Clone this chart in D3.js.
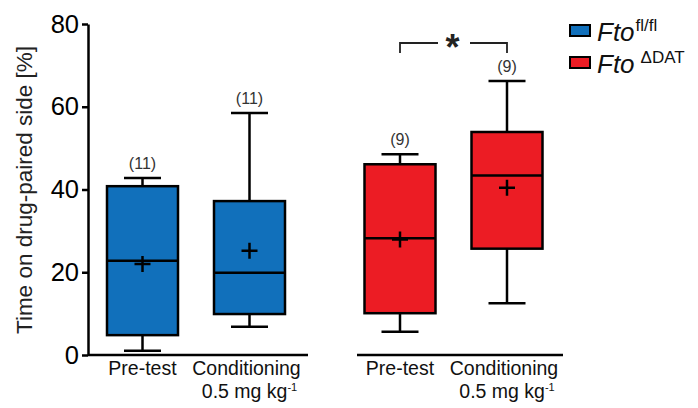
<!DOCTYPE html>
<html>
<head>
<meta charset="utf-8">
<script src="https://cdn.jsdelivr.net/npm/d3@7"></script>
<style>
  body { margin: 0; background: #fff; }
  svg { font-family: "Liberation Sans", Arial, Helvetica, sans-serif; }
</style>
</head>
<body>
<svg id="chart" width="698" height="408"></svg>
<script>
// --- data ---
const boxIds   = ["ff_pre", "ff_cond", "dat_pre", "dat_cond"];
const genotype = ["fl", "fl", "dat", "dat"];
const whiskLo  = [1.0, 6.8, 5.6, 12.5];
const q1       = [4.8, 9.9, 10.1, 25.7];
const median   = [22.8, 19.9, 28.2, 43.4];
const q3       = [40.8, 37.2, 46.1, 53.9];
const whiskHi  = [42.8, 58.5, 48.5, 66.2];
const means    = [22.0, 25.2, 27.9, 40.4];
const nLabels  = ["(11)", "(11)", "(9)", "(9)"];
const yTicks   = [0, 20, 40, 60, 80];

const colors = { fl: "#1170bb", dat: "#ec1c24" };

const svg = d3.select("#chart");

// scales
const y = d3.scaleLinear().domain([0, 80]).range([355, 24]);
// box centres: two groups of two, gap between groups
const centers = { ff_pre: 142.5, ff_cond: 249.5, dat_pre: 400, dat_cond: 507 };
const boxW = 71, capW = 37;

// y axis
const yAxis = svg.append("g")
    .attr("transform", "translate(88,0)")
    .call(d3.axisLeft(y).tickValues(yTicks).tickSize(6).tickSizeOuter(0).tickPadding(3));
yAxis.select(".domain").attr("stroke", "#000").attr("stroke-width", 2.5);
yAxis.selectAll(".tick line").attr("stroke", "#000").attr("stroke-width", 2.5);
yAxis.selectAll(".tick text").attr("font-size", 25.5).attr("fill", "#000")
    .attr("font-family", "Liberation Sans, Arial, sans-serif");

svg.append("text")
    .attr("transform", "translate(32,190) rotate(-90)")
    .attr("text-anchor", "middle")
    .attr("font-size", 22.5)
    .attr("fill", "#222")
    .text("Time on drug-paired side [%]");

// x axis segments for each group
const groupLines = [[88, 308], [357, 563]];
svg.selectAll("line.xaxis").data(groupLines).enter().append("line")
    .attr("class", "xaxis")
    .attr("x1", d => d[0]).attr("x2", d => d[1])
    .attr("y1", y(0)).attr("y2", y(0))
    .attr("stroke", "#000").attr("stroke-width", 2.5);

// boxes
const rows = boxIds.map((id, i) => ({
    id, g: genotype[i], lo: whiskLo[i], q1: q1[i], med: median[i],
    q3: q3[i], hi: whiskHi[i], mean: means[i], n: nLabels[i], cx: centers[id]
}));

const bx = svg.selectAll("g.box").data(rows).enter().append("g").attr("class", "box");
const sw = 2.5;

// whiskers
bx.append("line").attr("x1", d => d.cx).attr("x2", d => d.cx)
    .attr("y1", d => y(d.hi)).attr("y2", d => y(d.q3))
    .attr("stroke", "#000").attr("stroke-width", sw);
bx.append("line").attr("x1", d => d.cx).attr("x2", d => d.cx)
    .attr("y1", d => y(d.q1)).attr("y2", d => y(d.lo))
    .attr("stroke", "#000").attr("stroke-width", sw);
bx.append("line").attr("x1", d => d.cx - capW / 2).attr("x2", d => d.cx + capW / 2)
    .attr("y1", d => y(d.hi)).attr("y2", d => y(d.hi))
    .attr("stroke", "#000").attr("stroke-width", sw);
bx.append("line").attr("x1", d => d.cx - capW / 2).attr("x2", d => d.cx + capW / 2)
    .attr("y1", d => y(d.lo)).attr("y2", d => y(d.lo))
    .attr("stroke", "#000").attr("stroke-width", sw);
// box
bx.append("rect")
    .attr("x", d => d.cx - boxW / 2).attr("width", boxW)
    .attr("y", d => y(d.q3)).attr("height", d => y(d.q1) - y(d.q3))
    .attr("fill", d => colors[d.g]).attr("stroke", "#000").attr("stroke-width", sw);
// median
bx.append("line").attr("x1", d => d.cx - boxW / 2).attr("x2", d => d.cx + boxW / 2)
    .attr("y1", d => y(d.med)).attr("y2", d => y(d.med))
    .attr("stroke", "#000").attr("stroke-width", sw);
// mean plus
bx.append("path")
    .attr("d", d => `M${d.cx - 8},${y(d.mean)}H${d.cx + 8}M${d.cx},${y(d.mean) - 8}V${y(d.mean) + 8}`)
    .attr("stroke", "#000").attr("stroke-width", 2.5).attr("fill", "none");
// n labels
bx.append("text")
    .attr("x", d => d.cx).attr("y", d => y(d.hi) - 9)
    .attr("text-anchor", "middle").attr("font-size", 16).attr("fill", "#333")
    .text(d => d.n);

// category labels
svg.selectAll("text.cat").data(rows).enter().append("text")
    .attr("class", "cat")
    .attr("x", d => d.cx + (d.id.endsWith("cond") ? -3 : 0)).attr("y", 375)
    .attr("text-anchor", "middle").attr("font-size", 19.5).attr("fill", "#111")
    .text(d => d.id.endsWith("pre") ? "Pre-test" : "Conditioning");
const dose = svg.selectAll("text.dose").data(rows.filter(d => d.id.endsWith("cond"))).enter()
    .append("text").attr("class", "dose")
    .attr("x", d => d.cx).attr("y", 398)
    .attr("text-anchor", "middle").attr("font-size", 19.5).attr("fill", "#111");
dose.append("tspan").text("0.5 mg kg");
dose.append("tspan").attr("dy", -7).attr("font-size", 11).text("-1");

// significance bracket
const bY = 43, bL = centers.dat_pre, bR = centers.dat_cond;
svg.append("path")
    .attr("d", `M${bL},53V${bY}H438M470,${bY}H${bR}V53`)
    .attr("fill", "none").attr("stroke", "#222").attr("stroke-width", 1.8);
svg.append("text").attr("x", (bL + bR) / 2 - 1).attr("y", 60)
    .attr("text-anchor", "middle").attr("font-size", 36).attr("font-weight", "bold")
    .attr("fill", "#222").text("*");

// legend
const legend = [
    { g: "fl", sup: "fl/fl", y: 25 },
    { g: "dat", sup: "\u0394DAT", y: 57 }
];
const lg = svg.selectAll("g.leg").data(legend).enter().append("g").attr("class", "leg");
lg.append("rect").attr("x", 570).attr("y", d => d.y).attr("width", 20).attr("height", 11)
    .attr("fill", d => colors[d.g]).attr("stroke", "#000").attr("stroke-width", 2);
const lt = lg.append("text").attr("x", 597).attr("y", d => d.y + 16)
    .attr("font-size", 26).attr("fill", "#111");
lt.append("tspan").attr("font-style", "italic").text("Fto");
lt.append("tspan").attr("dx", d => d.g === "dat" ? 6 : 1).attr("dy", -10).attr("font-size", 17)
    .text(d => d.sup);
</script>
</body>
</html>
